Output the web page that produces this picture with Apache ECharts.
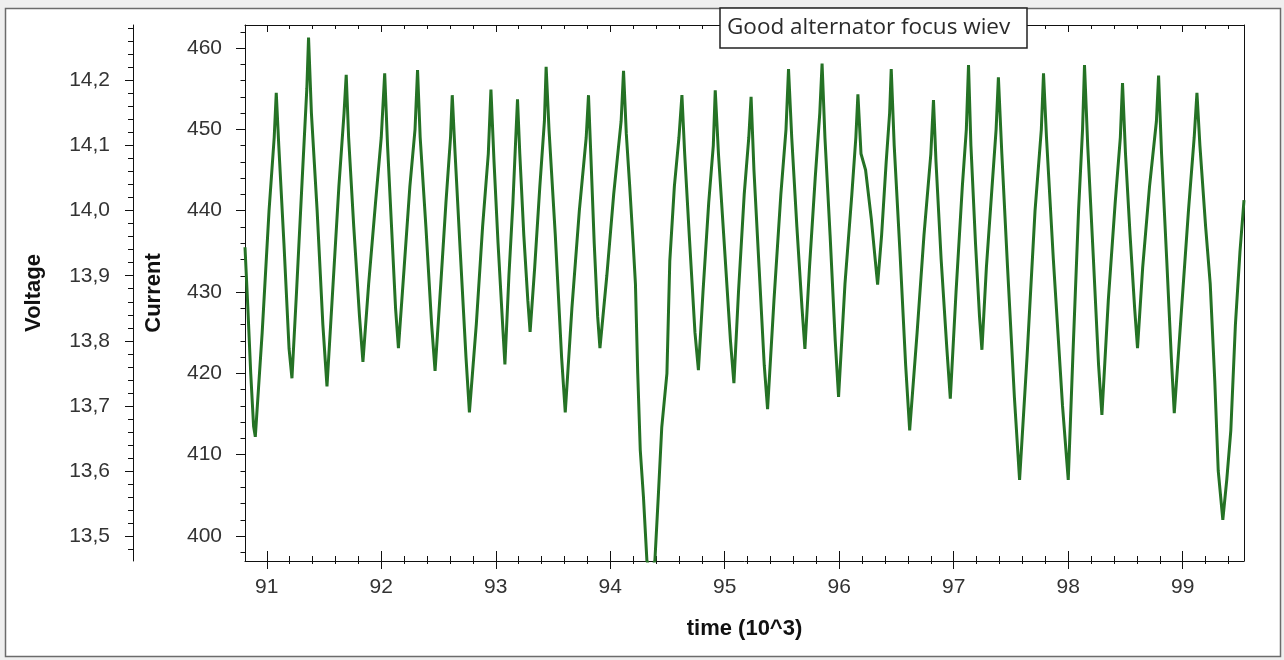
<!DOCTYPE html>
<html>
<head>
<meta charset="utf-8">
<title>Good alternator focus wiev</title>
<script src="https://cdn.jsdelivr.net/npm/echarts@6/dist/echarts.min.js"></script>
<style>
  html, body { margin: 0; padding: 0; background: #efefef; }
  #chart { width: 1284px; height: 660px; }
</style>
</head>
<body>
<div id="chart"></div>
<script>
// time in units of 10^3 (peaks, troughs and the edges between)
const timeK = [
  90.810, 90.835, 90.860, 90.885, 90.900, 90.960, 91.020, 91.065, 91.083, 91.105, 91.150, 91.195, 91.220,
  91.260, 91.310, 91.350, 91.365, 91.390, 91.440, 91.490, 91.526,
  91.575, 91.630, 91.675, 91.694, 91.715, 91.760, 91.810, 91.840,
  91.890, 91.950, 92.000, 92.030, 92.055, 92.090, 92.125, 92.150,
  92.200, 92.250, 92.295, 92.317, 92.340, 92.390, 92.440, 92.470,
  92.520, 92.565, 92.605, 92.620, 92.645, 92.690, 92.740, 92.770,
  92.830, 92.885, 92.935, 92.958, 92.985, 93.020, 93.060, 93.080,
  93.115, 93.150, 93.175, 93.190, 93.210, 93.245, 93.280, 93.300,
  93.340, 93.385, 93.425, 93.440, 93.465, 93.520, 93.575, 93.607,
  93.665, 93.730, 93.790, 93.810, 93.830, 93.860, 93.890, 93.910,
  93.970, 94.030, 94.095, 94.116, 94.140, 94.170, 94.200, 94.220, 94.240, 94.262, 94.290, 94.320, 94.355,
  94.390, 94.420, 94.450, 94.495, 94.520, 94.560, 94.600, 94.626, 94.650, 94.690, 94.740, 94.770,
  94.810, 94.860, 94.900, 94.917, 94.945, 95.000, 95.050, 95.080,
  95.120, 95.170, 95.210, 95.230, 95.255, 95.300, 95.345, 95.374,
  95.430, 95.490, 95.535, 95.557, 95.585, 95.630, 95.675, 95.700,
  95.740, 95.790, 95.830, 95.850, 95.875, 95.920, 95.965, 95.994,
  96.050, 96.110, 96.145, 96.163, 96.190, 96.230, 96.280, 96.335,
  96.370, 96.410, 96.440, 96.454, 96.480, 96.530, 96.580, 96.615,
  96.680, 96.740, 96.800, 96.823, 96.845, 96.890, 96.940, 96.970,
  97.020, 97.075, 97.110, 97.129, 97.150, 97.190, 97.225, 97.246,
  97.285, 97.330, 97.370, 97.390, 97.420, 97.470, 97.530, 97.575,
  97.640, 97.710, 97.765, 97.784, 97.810, 97.870, 97.950, 98.000,
  98.040, 98.090, 98.125, 98.142, 98.170, 98.220, 98.265, 98.294,
  98.350, 98.410, 98.455, 98.474, 98.500, 98.540, 98.580, 98.605,
  98.650, 98.710, 98.770, 98.789, 98.815, 98.860, 98.900, 98.926,
  98.990, 99.050, 99.100, 99.124, 99.150, 99.200, 99.240, 99.280, 99.310, 99.350,
  99.385, 99.420, 99.460, 99.500, 99.535
]
const current = [
  435.5, 428, 420, 413.5, 412.2, 425, 440, 449, 454.5, 448, 436, 423, 419.4,
  430, 444, 455, 461.3, 452, 440, 426, 418.4,
  430, 443, 452, 456.7, 449, 438, 427, 421.4,
  431, 441, 449, 456.9, 448, 438, 428, 423.1,
  433, 443, 450, 457.3, 449, 438, 426, 420.3,
  431, 441, 449, 454.2, 447, 435, 422, 415.2,
  426, 438, 447, 454.9, 446, 436, 426, 421.1,
  432, 441, 449, 453.7, 447, 437, 429, 425.1,
  433, 443, 451, 457.7, 450, 437, 422, 415.2,
  428, 440, 449, 454.2, 447, 436, 427, 423.1,
  432, 442, 451, 457.2, 449.5, 443, 436, 431, 420, 410.6, 404.8, 397, 395.5,
  397, 405, 413.4, 420, 433.8, 443, 449, 454.2, 447, 437, 425, 420.4,
  430, 441, 448, 454.8, 447, 435, 424, 418.8,
  430, 442, 449, 454.0, 445, 433, 421, 415.6,
  429, 442, 450, 457.4, 449, 438, 428, 423.0,
  433, 444, 452, 458.1, 449, 437, 424, 417.1,
  431, 442, 449, 454.3, 447, 445, 439, 430.9,
  437, 446, 452, 457.4, 448, 435, 421, 413.0,
  425, 437, 447, 453.6, 446, 434, 423, 416.9,
  430, 443, 450, 457.9, 448, 436, 427, 422.9,
  433, 442, 450, 456.4, 447, 433, 417, 406.9,
  422, 440, 450, 456.9, 449, 434, 416, 406.9,
  422, 440, 450, 457.9, 448, 434, 421, 414.9,
  429, 441, 449, 455.7, 447, 437, 428, 423.1,
  433, 443, 451, 456.6, 447, 434, 422, 415.1,
  428, 440, 449, 454.5, 448, 438, 431, 419, 408, 402,
  407, 413, 426, 435, 441.3
]

const timeTicks = [91, 92, 93, 94, 95, 96, 97, 98, 99]
const currentTicks = [400, 410, 420, 430, 440, 450, 460]
const voltageTicks = [13.5, 13.6, 13.7, 13.8, 13.9, 14.0, 14.1, 14.2]

const X_MIN = 90.81
const X_MAX = 99.535
const I_MIN = 396.93
const I_MAX = 462.83
const V_MIN = 13.4616
const V_MAX = 14.2853

// minor tick positions
function steps (lo, hi, step) {
  const out = []
  const n = Math.round((hi - lo) / step)
  for (let i = 0; i <= n; i++) out.push(+(lo + i * step).toFixed(3))
  return out
}
const timeMinor = steps(91, 99.4, 0.2)
const currentMinor = steps(398, 462, 2)
const voltageMinor = steps(13.48, 14.28, 0.02)

const INK = '#111'
const labelFont = { fontFamily: 'Liberation Sans, Arial, sans-serif', fontSize: 21, color: '#333' }
const nameFont = { fontFamily: 'Liberation Sans, Arial, sans-serif', fontSize: 22, fontWeight: 'bold', color: '#111' }

function tickAxis (extra) {
  return Object.assign({
    type: 'value',
    gridIndex: 0,
    axisLine: { show: false, onZero: false, lineStyle: { color: INK, width: 1 } },
    axisTick: { show: true, inside: false, length: 5, lineStyle: { color: INK, width: 1 } },
    axisLabel: { show: false },
    splitLine: { show: false }
  }, extra)
}

const chart = echarts.init(document.getElementById('chart'))
chart.setOption({
  animation: false,
  backgroundColor: '#efefef',
  graphic: [{
    type: 'rect',
    z: -10,
    silent: true,
    shape: { x: 5.5, y: 8.5, width: 1275, height: 648 },
    style: { fill: '#fff', stroke: '#6b6b6b', lineWidth: 1.5 }
  }],
  title: {
    text: 'Good alternator focus wiev',
    left: 720,
    top: 8,
    padding: [7, 17, 7, 7],
    borderColor: '#222',
    borderWidth: 1.5,
    backgroundColor: '#fff',
    textStyle: { fontFamily: 'Open Sans', fontSize: 22.5, fontWeight: 'normal', color: '#2a2a2a', lineHeight: 26 }
  },
  grid: { left: 245, top: 25, right: 40, bottom: 99 },
  xAxis: [
    tickAxis({
      position: 'bottom', min: X_MIN, max: X_MAX,
      axisLine: { show: true, onZero: false, lineStyle: { color: INK, width: 1 } },
      axisTick: { show: true, length: 8, customValues: timeTicks, lineStyle: { color: INK } },
      axisLabel: Object.assign({ show: true, margin: 16, customValues: timeTicks }, labelFont),
      name: 'time (10^3)', nameLocation: 'middle', nameGap: 57, nameTextStyle: nameFont
    }),
    tickAxis({ position: 'bottom', min: X_MIN, max: X_MAX,
      axisTick: { show: true, inside: true, length: 10, customValues: timeTicks, lineStyle: { color: INK } } }),
    tickAxis({ position: 'bottom', min: X_MIN, max: X_MAX,
      axisTick: { show: true, length: 3, customValues: timeMinor, lineStyle: { color: INK } } }),
    tickAxis({ position: 'bottom', min: X_MIN, max: X_MAX,
      axisTick: { show: true, inside: true, length: 5, customValues: timeMinor, lineStyle: { color: INK } } }),
    tickAxis({ position: 'top', min: X_MIN, max: X_MAX,
      axisLine: { show: true, onZero: false, lineStyle: { color: INK, width: 1 } },
      axisTick: { show: true, inside: true, length: 7, customValues: timeTicks, lineStyle: { color: INK } } }),
    tickAxis({ position: 'top', min: X_MIN, max: X_MAX,
      axisTick: { show: true, inside: true, length: 4, customValues: timeMinor, lineStyle: { color: INK } } })
  ],
  yAxis: [
    tickAxis({
      position: 'left', offset: 0, min: I_MIN, max: I_MAX,
      axisLine: { show: true, onZero: false, lineStyle: { color: INK, width: 1 } },
      axisTick: { show: true, length: 9, customValues: currentTicks, lineStyle: { color: INK } },
      axisLabel: Object.assign({ show: true, margin: 23, customValues: currentTicks }, labelFont),
      name: 'Current', nameLocation: 'middle', nameGap: 80, nameTextStyle: nameFont
    }),
    tickAxis({ position: 'left', offset: 0, min: I_MIN, max: I_MAX,
      axisTick: { show: true, length: 4.5, customValues: currentMinor, lineStyle: { color: INK } } }),
    tickAxis({
      position: 'left', offset: 112, min: V_MIN, max: V_MAX,
      axisLine: { show: true, onZero: false, lineStyle: { color: INK, width: 1 } },
      axisTick: { show: true, length: 8, customValues: voltageTicks, lineStyle: { color: INK } },
      axisLabel: Object.assign({
        show: true, margin: 23, customValues: voltageTicks,
        formatter: v => v.toFixed(1).replace('.', ',')
      }, labelFont),
      name: 'Voltage', nameLocation: 'middle', nameGap: 88, nameTextStyle: nameFont
    }),
    tickAxis({ position: 'left', offset: 112, min: V_MIN, max: V_MAX,
      axisTick: { show: true, length: 5, customValues: voltageMinor, lineStyle: { color: INK } } }),
    tickAxis({ position: 'right', min: I_MIN, max: I_MAX,
      axisLine: { show: true, onZero: false, lineStyle: { color: INK, width: 1 } },
      axisTick: { show: false } })
  ],
  series: [{
    name: 'Current',
    type: 'line',
    xAxisIndex: 0,
    yAxisIndex: 0,
    data: timeK.map((t, i) => [t, current[i]]),
    showSymbol: false,
    symbol: 'none',
    clip: true,
    lineStyle: { color: '#257225', width: 3 }
  }]
})
</script>
</body>
</html>
